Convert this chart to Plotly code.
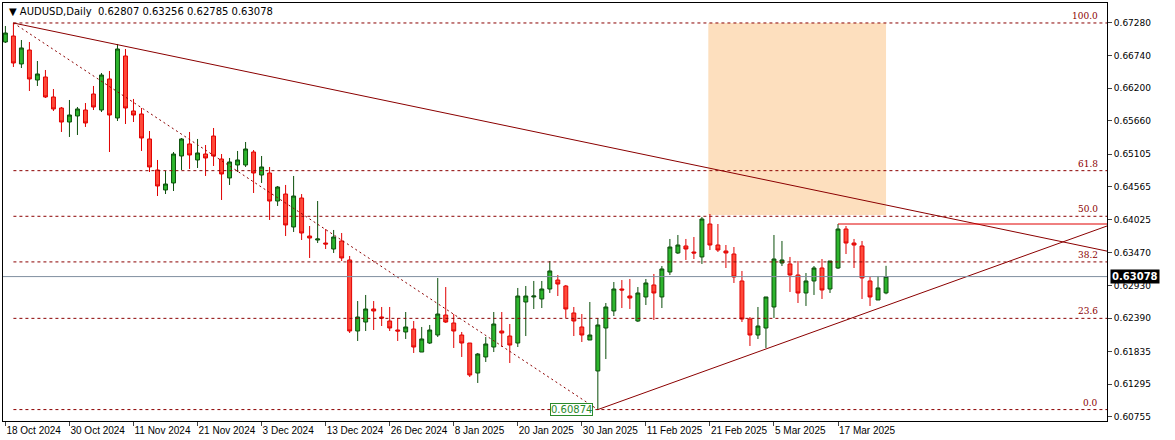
import plotly.graph_objects as go
import pandas as pd

opens = [0.66965,0.67064,0.66601,0.66832,0.66335,0.66385,0.66054,0.65871,0.65639,0.65739,
0.65838,0.66103,0.65838,0.66352,0.65706,0.66733,0.65822,0.65772,0.65358,0.64844,
0.64513,0.64629,0.65076,0.65275,0.65010,0.65109,0.65407,0.65026,0.64712,0.64927,
0.64927,0.65142,0.64761,0.64794,0.64330,0.64446,0.63900,0.64380,0.63750,0.63684,
0.63634,0.63535,0.63668,0.63353,0.62176,0.62325,0.62541,0.62408,0.62342,0.62193,
0.62160,0.62209,0.61828,0.61977,0.62110,0.62441,0.62309,0.62110,0.61977,0.61480,
0.61746,0.61911,0.62176,0.62093,0.61977,0.62657,0.62740,0.62707,0.62872,0.63021,
0.62922,0.62475,0.62243,0.62027,0.61514,0.62226,0.62508,0.62872,0.62756,0.62342,
0.62740,0.62939,0.62740,0.63154,0.63469,0.63585,0.63485,0.63403,0.63949,0.63601,
0.63502,0.63452,0.63005,0.62375,0.62110,0.62226,0.62574,0.63303,0.63287,0.63104,
0.62806,0.63005,0.63220,0.62872,0.63220,0.63866,0.63634,0.63585,0.63005,0.62690,0.62807]
highs = [0.67230,0.67280,0.66998,0.66965,0.66650,0.66501,0.66186,0.65888,0.66004,0.65888,
0.65954,0.66236,0.66451,0.66485,0.66932,0.66849,0.66021,0.65871,0.65490,0.65010,
0.64828,0.65142,0.65374,0.65474,0.65358,0.65258,0.65540,0.65109,0.65043,0.65159,
0.65308,0.65175,0.65076,0.64894,0.64579,0.64596,0.64745,0.64446,0.63916,0.64330,
0.63866,0.63850,0.63800,0.63419,0.62673,0.62773,0.62673,0.62574,0.62574,0.62392,
0.62491,0.62342,0.62243,0.62276,0.63055,0.62905,0.62458,0.62160,0.61977,0.61812,
0.62077,0.62491,0.62491,0.62292,0.62889,0.62922,0.63005,0.63005,0.63336,0.63104,
0.62939,0.62574,0.62458,0.62657,0.62392,0.62640,0.62988,0.63021,0.63038,0.62905,
0.63038,0.63121,0.63253,0.63701,0.63767,0.63701,0.63734,0.64065,0.64115,0.63949,
0.63601,0.63568,0.63171,0.62408,0.62574,0.62740,0.63767,0.63668,0.63403,0.63336,
0.63137,0.63253,0.63369,0.63336,0.63949,0.63916,0.63701,0.63668,0.63071,0.63088,0.63256]
lows = [0.66948,0.66551,0.66534,0.66153,0.66236,0.66037,0.65822,0.65474,0.65391,0.65424,
0.65557,0.65838,0.65805,0.65142,0.65656,0.65606,0.65639,0.65159,0.64811,0.64413,
0.64446,0.64496,0.64844,0.64861,0.64877,0.64745,0.64910,0.64347,0.64596,0.64811,
0.64894,0.64463,0.64629,0.64016,0.64248,0.63750,0.63817,0.63684,0.63386,0.63634,
0.63535,0.63469,0.63336,0.62143,0.62011,0.62176,0.62193,0.62259,0.62176,0.62011,
0.62044,0.61812,0.61828,0.61961,0.62077,0.62309,0.61895,0.61746,0.61414,0.61315,
0.61663,0.61828,0.61911,0.61646,0.61911,0.62093,0.62541,0.62557,0.62806,0.62756,
0.62392,0.62093,0.61994,0.62027,0.60874,0.61712,0.62425,0.62557,0.62541,0.62325,
0.62607,0.62359,0.62557,0.63104,0.63452,0.63353,0.63369,0.63287,0.63518,0.63485,
0.63220,0.62972,0.62325,0.61928,0.62044,0.61895,0.62392,0.63253,0.62823,0.62640,
0.62591,0.62773,0.62707,0.62806,0.63204,0.63452,0.63220,0.62707,0.62591,0.62690,0.62785]
closes = [0.67114,0.66617,0.66866,0.66352,0.66435,0.66054,0.65855,0.65639,0.65755,0.65855,
0.65623,0.65888,0.66418,0.65755,0.66849,0.65871,0.65755,0.65374,0.64894,0.64579,
0.64612,0.65109,0.65358,0.65093,0.65126,0.65043,0.65076,0.64778,0.64977,0.65010,
0.65192,0.64794,0.64894,0.64330,0.64562,0.63933,0.64413,0.63800,0.63717,0.63701,
0.63618,0.63734,0.63386,0.62176,0.62408,0.62541,0.62508,0.62392,0.62226,0.62176,
0.62243,0.61911,0.62044,0.62193,0.62458,0.62325,0.62176,0.61977,0.61447,0.61795,
0.61961,0.62292,0.62143,0.61944,0.62756,0.62756,0.62756,0.62872,0.63171,0.62955,
0.62541,0.62342,0.62110,0.62110,0.62276,0.62574,0.62872,0.62856,0.62723,0.62806,
0.62972,0.62806,0.63204,0.63568,0.63601,0.63535,0.63469,0.64032,0.63601,0.63518,
0.63469,0.63071,0.62375,0.62110,0.62259,0.62740,0.63369,0.63353,0.63104,0.62806,
0.63005,0.63220,0.62856,0.63336,0.63866,0.63634,0.63601,0.63055,0.62740,0.62889,0.63078]

holidays = ["2024-12-25", "2025-01-01"]
dates = [d for d in pd.bdate_range("2024-10-18", "2025-03-31") if d.strftime("%Y-%m-%d") not in holidays][:len(opens)]
tick_labels = ["18 Oct 2024","30 Oct 2024","11 Nov 2024","21 Nov 2024","3 Dec 2024","13 Dec 2024",
               "26 Dec 2024","8 Jan 2025","20 Jan 2025","30 Jan 2025","11 Feb 2025","21 Feb 2025",
               "5 Mar 2025","17 Mar 2025"]
y_ticks = [0.67280,0.66740,0.66200,0.65660,0.65105,0.64565,0.64025,0.63470,0.62930,0.62390,0.61835,0.61295,0.60755]
fib_ratios = [0.0, 23.6, 38.2, 50.0, 61.8, 100.0]

idx = list(range(len(opens)))
date_str = [d.strftime("%-d %b %Y") for d in dates]
tick_idx = [date_str.index(t) for t in tick_labels]

DR = "#8B0000"
DASH = "3px,3px"
fig = go.Figure()
fig.add_trace(go.Candlestick(x=idx, open=opens, high=highs, low=lows, close=closes,
    increasing=dict(fillcolor="#2DB52D", line=dict(color="#0B4F0B", width=1)),
    decreasing=dict(fillcolor="#FF4A3A", line=dict(color="#E00000", width=1)),
    whiskerwidth=0, showlegend=False, hoverinfo="skip"))

XMAX = 137.6
hi, lo = max(highs), min(lows)
i_hi, i_lo = highs.index(hi), lows.index(lo)
shapes = []
shapes.append(dict(type="rect", x0=87.8, x1=110.0, y0=0.6410, y1=hi, fillcolor="#FDDFBE",
                   line=dict(width=0), layer="below"))
for r in fib_ratios:
    lv = lo + (hi - lo) * r / 100
    shapes.append(dict(type="line", x0=1, x1=XMAX, y0=lv, y1=lv, line=dict(color=DR, width=1, dash=DASH)))
    fig.add_annotation(x=0.994, xref="paper", y=lv, yref="y", text=f"{r:.1f}", showarrow=False,
                       xanchor="right", yanchor="bottom", font=dict(size=9, color=DR, family="DejaVu Serif"))
shapes.append(dict(type="line", x0=i_hi, y0=hi, x1=XMAX, y1=0.6350, line=dict(color=DR, width=1)))
shapes.append(dict(type="line", x0=i_lo, y0=lo, x1=XMAX, y1=0.63916, line=dict(color=DR, width=1)))
shapes.append(dict(type="line", x0=i_hi, y0=hi, x1=i_lo, y1=lo, line=dict(color=DR, width=1, dash="2px,3px")))
shapes.append(dict(type="line", x0=104, y0=highs[104], x1=XMAX, y1=highs[104], line=dict(color="#E00000", width=1)))
shapes.append(dict(type="line", xref="paper", x0=0, x1=1, y0=closes[-1], y1=closes[-1], line=dict(color="#8090A0", width=1)))
fig.update_layout(shapes=shapes)

fig.add_annotation(x=i_lo - 0.6, y=lo, text=f"{lo:.5f}", showarrow=False, xanchor="right", yanchor="middle",
                   font=dict(size=10, color="#2A8A2A", family="DejaVu Sans"), bgcolor="white",
                   bordercolor="#2A8A2A", borderwidth=1, borderpad=0)
fig.add_annotation(x=1.0, xref="paper", y=closes[-1], text=f"<b>{closes[-1]:.5f}</b>", showarrow=False,
                   xanchor="left", yanchor="middle", font=dict(size=10, color="white", family="DejaVu Sans"),
                   bgcolor="black", borderpad=1, xshift=3)
fig.add_annotation(x=0, xref="paper", y=1.0, yref="paper", yanchor="top", xanchor="left", showarrow=False,
                   text=f"▼ AUDUSD,Daily  {opens[-1]:.5f} {highs[-1]:.5f} {lows[-1]:.5f} {closes[-1]:.5f}",
                   font=dict(size=10, color="black", family="DejaVu Sans"), xshift=4, yshift=-1)

fig.update_layout(width=1175, height=440, margin=dict(l=3, r=68, t=3, b=19),
    paper_bgcolor="white", plot_bgcolor="white", font=dict(family="DejaVu Sans", size=9, color="black"),
    xaxis=dict(range=[-0.3, XMAX], rangeslider=dict(visible=False), showgrid=False, zeroline=False,
               tickmode="array", tickvals=tick_idx, ticktext=tick_labels, ticks="outside", ticklen=4,
               tickangle=0, ticklabelposition="outside right", showline=True, linecolor="black", mirror=True,
               automargin=False, tickfont=dict(family="Liberation Sans", size=10)),
    yaxis=dict(range=[0.60685, 0.67611], side="right", showgrid=False, zeroline=False,
               tickmode="array", tickvals=y_ticks, ticktext=[f"{v:.5f}" for v in y_ticks],
               ticks="outside", ticklen=4, showline=True, linecolor="black", mirror=True, automargin=False))
fig.write_html("out.html", config={"displayModeBar": False},
               post_script="document.body.style.margin='0';document.body.style.overflow='hidden';")
